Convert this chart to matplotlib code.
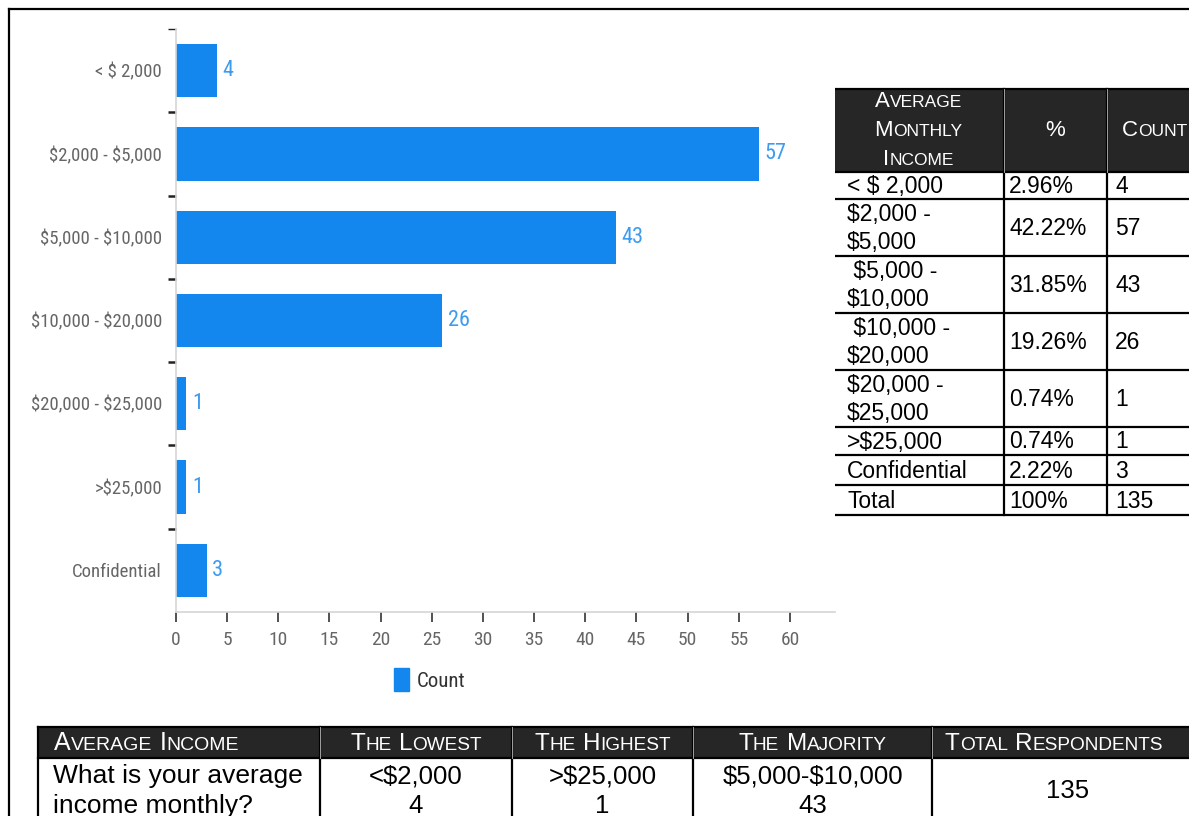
import numpy as np
import matplotlib
matplotlib.use("Agg")
import matplotlib.pyplot as plt
from matplotlib.patches import Rectangle, Patch
from matplotlib.offsetbox import TextArea, HPacker, VPacker, AnnotationBbox, DrawingArea

# income brackets and respondent counts
categories = ["< $ 2,000", "$2,000 - $5,000", "$5,000 - $10,000", "$10,000 - $20,000",
              "$20,000 - $25,000", ">$25,000", "Confidential"]
counts = [4, 57, 43, 26, 1, 1, 3]
x_ticks = list(range(0, 61, 5))

# summary table at the right
tbl_income = ["< $ 2,000", "$2,000 -\n$5,000", " $5,000 -\n$10,000", " $10,000 -\n$20,000",
              "$20,000 -\n$25,000", ">$25,000", "Confidential", "Total"]
tbl_pct = ["2.96%", "42.22%", "31.85%", "19.26%", "0.74%", "0.74%", "2.22%", "100%"]
tbl_count = ["4", "57", "43", "26", "1", "1", "3", "135"]

# overview table at the bottom
ov_headers = ["Average Income", "The Lowest", "The Highest", "The Majority", "Total Respondents"]
ov_row = ["What is your average\nincome monthly?", "<$2,000\n4", ">$25,000\n1",
          "$5,000-$10,000\n43", "135"]

W, H = 1189, 816
fig = plt.figure(figsize=(W / 100, H / 100), dpi=100)
fig.patch.set_facecolor("white")

chart_font = ["Liberation Sans Narrow", "Roboto Condensed", "Roboto", "DejaVu Sans"]
doc_font = ["Liberation Sans", "Arial", "DejaVu Sans"]

# page layer in pixel units
pg = fig.add_axes([0, 0, 1, 1])
pg.set_xlim(0, W)
pg.set_ylim(H, 0)
pg.axis("off")

# page frame
pg.plot([9, 9], [9, H + 5], color="black", lw=1.6)
pg.plot([9, W + 5], [9, 9], color="black", lw=1.6)

# ---- bar chart ----
ax = fig.add_axes([176 / W, 1 - 612 / H, 659 / W, 583 / H])
y = np.arange(len(categories))
ax.barh(y, counts, height=0.64, color="#1387ee")
ax.set_ylim(len(categories) - 0.5, -0.5)
ax.set_xlim(0, 64.4)
for sp in ["top", "right"]:
    ax.spines[sp].set_visible(False)
for sp in ["left", "bottom"]:
    ax.spines[sp].set_color("#d6d6d6")
    ax.spines[sp].set_linewidth(1.2)

ax.set_yticks(y)
ax.set_yticklabels(categories, family=chart_font, fontsize=13.5, color="#666666",
                   parse_math=False)
ax.tick_params(axis="y", which="major", length=0, pad=10)
ax.set_yticks(np.arange(-0.5, len(categories) - 1, 1), minor=True)
ax.tick_params(axis="y", which="minor", length=6, width=1.8, color="#222222")
ax.yaxis.get_minor_ticks()[0].tick1line.set_color("#cccccc")
ax.yaxis.get_minor_ticks()[0].tick1line.set_markeredgewidth(1)

ax.set_xticks(x_ticks)
ax.set_xticklabels([str(t) for t in x_ticks], family=chart_font, fontsize=14, color="#666666")
ax.tick_params(axis="x", length=7, width=1.2, color="#333333", pad=7)
ax.xaxis.get_major_ticks()[0].tick1line.set_color("#cccccc")

for i, v in enumerate(counts):
    ax.text(v + 0.55, i, str(v), va="center", ha="left", color="#3d9bf0",
            family=chart_font, fontsize=16)

leg = ax.legend(handles=[Patch(color="#1387ee", label="Count")], loc="center",
                bbox_to_anchor=(0.385, -0.116), frameon=False, handlelength=0.7,
                handleheight=1.3, handletextpad=0.35,
                prop={"family": chart_font, "size": 15})
for t in leg.get_texts():
    t.set_color("#333333")


def caps_box(text, big, color="white"):
    """Small-caps line built from big first letters and smaller capitals."""
    small = big * 0.78
    parts = []
    for k, word in enumerate(text.split(" ")):
        if k:
            parts.append(DrawingArea(big * 0.22 * 100 / 72, 1))
        parts.append(TextArea(word[0].upper(), textprops=dict(fontsize=big, color=color, family=doc_font)))
        if len(word) > 1:
            parts.append(TextArea(word[1:].upper(), textprops=dict(fontsize=small, color=color, family=doc_font)))
    return HPacker(children=parts, align="baseline", pad=0, sep=0)


def place(box, x, yy, ha=0.5):
    pg.add_artist(AnnotationBbox(box, (x, yy), xycoords="data", frameon=False,
                                 box_alignment=(ha, 0.5), pad=0, annotation_clip=False))


# ---- right summary table ----
cx = [833, 1004, 1107, 1240]
ry = [89, 172, 199, 256, 313, 370, 427, 455, 485, 515]
pg.add_patch(Rectangle((cx[0], ry[0]), cx[-1] - cx[0], ry[1] - ry[0], facecolor="#262626",
                       edgecolor="none"))
for yy in ry:
    pg.plot([cx[0], cx[-1]], [yy, yy], color="black", lw=1.6)
for xx in cx[:-1]:
    pg.plot([xx, xx], [ry[0], ry[-1]], color="black", lw=1.6)
pg.plot([cx[1], cx[1]], [ry[0], ry[1]], color="#bbbbbb", lw=0.6)
pg.plot([cx[2], cx[2]], [ry[0], ry[1]], color="#bbbbbb", lw=0.6)

hdr = VPacker(children=[caps_box(w, 16) for w in ["Average", "Monthly", "Income"]],
              align="center", pad=0, sep=6)
place(hdr, (cx[0] + cx[1]) / 2, (ry[0] + ry[1]) / 2)
pg.text((cx[1] + cx[2]) / 2, (ry[0] + ry[1]) / 2, "%", ha="center", va="center",
        color="white", fontsize=16, family=doc_font)
place(caps_box("Count", 16), cx[2] + 15, (ry[0] + ry[1]) / 2, ha=0)

for i in range(len(tbl_income)):
    yc = (ry[i + 1] + ry[i + 2]) / 2 + 1
    pg.text(cx[0] + 14, yc, tbl_income[i], ha="left", va="center", fontsize=16.5,
            family=doc_font, color="black", linespacing=1.3, parse_math=False)
    pg.text(cx[1] + 5, yc, tbl_pct[i], ha="left", va="center", fontsize=16.5,
            family=doc_font, color="black")
    pg.text(cx[2] + 8, yc, tbl_count[i], ha="left", va="center", fontsize=16.5,
            family=doc_font, color="black")

# ---- bottom overview table ----
bx = [38, 320, 512, 693, 932, 1240]
by = [727, 758, 830]
pg.add_patch(Rectangle((bx[0], by[0]), bx[-1] - bx[0], by[1] - by[0], facecolor="#262626",
                       edgecolor="none"))
for yy in by[:2]:
    pg.plot([bx[0], bx[-1]], [yy, yy], color="black", lw=1.6)
for xx in bx[:-1]:
    pg.plot([xx, xx], [by[0], by[-1]], color="black", lw=1.6)
for xx in bx[1:-1]:
    pg.plot([xx, xx], [by[0], by[1]], color="#bbbbbb", lw=0.6)

hy = (by[0] + by[1]) / 2 + 1
place(caps_box(ov_headers[0], 18), bx[0] + 16, hy, ha=0)
for j in range(1, len(ov_headers)):
    xc = (bx[j] + bx[j + 1]) / 2 if j < len(ov_headers) - 1 else 1054
    place(caps_box(ov_headers[j], 17.5), xc, hy)

pg.text(bx[0] + 15, 791, ov_row[0], ha="left", va="center", fontsize=19,
        family=doc_font, color="black", linespacing=1.3)
for j in range(1, len(ov_row)):
    xc = (bx[j] + bx[j + 1]) / 2 if j < len(ov_row) - 1 else 1068
    pg.text(xc, 791, ov_row[j], ha="center", va="center", fontsize=18.5,
            family=doc_font, color="black", linespacing=1.3, parse_math=False)

fig.savefig("out.png", dpi=100, facecolor="white")
